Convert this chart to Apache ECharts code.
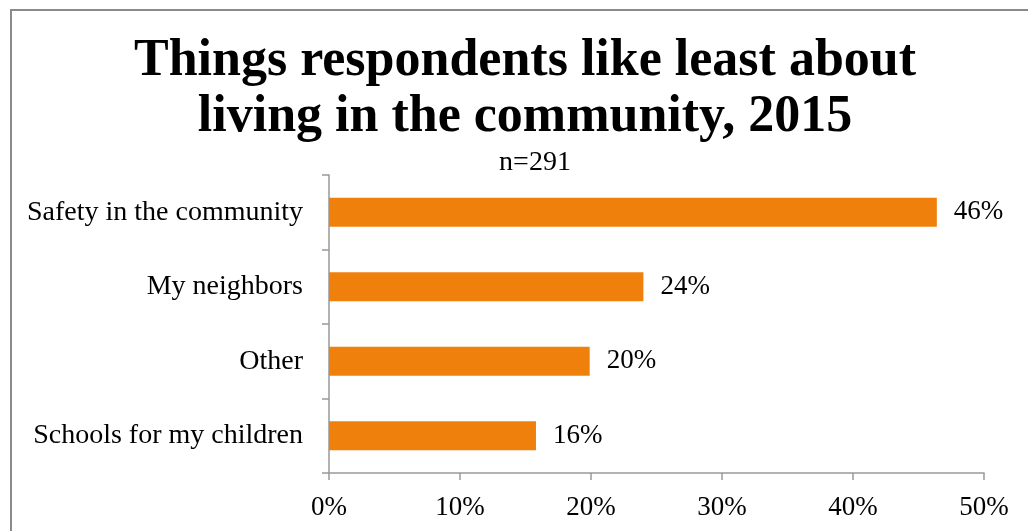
<!DOCTYPE html>
<html>
<head>
<meta charset="utf-8">
<script src="https://cdn.jsdelivr.net/npm/echarts@6/dist/echarts.min.js"></script>
<style>html,body{margin:0;padding:0;background:#fff;}#chart{width:1028px;height:531px;}</style>
</head>
<body>
<div id="chart"></div>
<script>
const categories = ['Safety in the community', 'My neighbors', 'Other', 'Schools for my children'];
const values = [46.4, 24.0, 19.9, 15.8];
const xTicks = [0, 10, 20, 30, 40, 50];

const FONT = 'Liberation Serif';
const chart = echarts.init(document.getElementById('chart'));
chart.setOption({
  backgroundColor: '#fff',
  animation: false,
  title: [
    {
      text: 'Things respondents like least about\nliving in the community, 2015',
      left: 520, top: 29, textAlign: 'center',
      textStyle: {fontFamily: FONT, fontWeight: 'bold', fontSize: 52, lineHeight: 56, color: '#000'}
    },
    {
      text: 'n=291',
      left: 530, top: 144, textAlign: 'center',
      textStyle: {fontFamily: FONT, fontWeight: 'normal', fontSize: 28, color: '#000'}
    }
  ],
  graphic: [{
    type: 'rect', shape: {x: 11, y: 10, width: 1100, height: 600},
    style: {fill: 'none', stroke: '#8a8a8a', lineWidth: 2}, silent: true
  }],
  grid: {left: 329, right: 44, top: 175, bottom: 58, containLabel: false},
  xAxis: {
    type: 'value', min: xTicks[0], max: xTicks[xTicks.length - 1], interval: 10,
    axisLine: {show: true, lineStyle: {color: '#999', width: 1.5}},
    axisTick: {show: true, length: 7, lineStyle: {color: '#999', width: 1.5}},
    splitLine: {show: false},
    axisLabel: {formatter: v => v + '%', fontFamily: FONT, fontSize: 27, color: '#000', margin: 21}
  },
  yAxis: {
    type: 'category', data: categories, inverse: true,
    axisLine: {show: true, lineStyle: {color: '#999', width: 1.5}},
    axisTick: {show: true, length: 7, lineStyle: {color: '#999', width: 1.5}},
    axisLabel: {fontFamily: FONT, fontSize: 28, color: '#000', margin: 26}
  },
  series: [{
    type: 'bar', data: values, barWidth: 29,
    itemStyle: {color: '#ef800c'},
    label: {show: true, position: 'right', distance: 17, formatter: p => Math.round(p.value) + '%',
      fontFamily: FONT, fontSize: 27, color: '#000'}
  }]
});
</script>
</body>
</html>
